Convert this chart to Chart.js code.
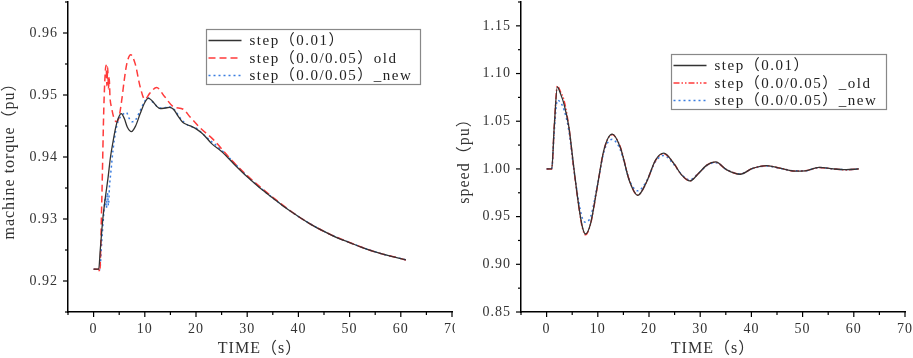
<!DOCTYPE html>
<html>
<head>
<meta charset="utf-8">
<script src="https://cdn.jsdelivr.net/npm/chart.js@4.4.1/dist/chart.umd.min.js"></script>
<style>
  body { margin: 0; background: #fff; width: 913px; height: 358px; overflow: hidden; position: relative; }
  #pL { position: absolute; left: 0; top: 0; }
  #boxR { position: absolute; left: 455px; top: 0; width: 458px; height: 358px; background: #fff; }
</style>
</head>
<body>
<canvas id="pL" width="460" height="358"></canvas>
<div id="boxR"><canvas id="pR" width="458" height="358"></canvas></div>
<script>
// ---- left panel: machine torque ----
const tRef = [0, 1, 1.3, 1.8, 2.3, 2.8, 3.3, 3.8, 4.3, 4.8, 5.4, 6, 6.6, 7.4, 8.2, 9.1, 10, 10.7, 11.5, 12.3, 13, 14, 14.8, 15.6, 16.5, 17.4, 18.3, 19.2, 20.1, 21.5, 23, 25, 27.5, 30, 32.5, 35, 37.5, 40, 42.5, 45, 47.5, 50, 52.5, 55, 58, 61];
const torqueRef = [0.9219, 0.9219, 0.9250, 0.9300, 0.9335, 0.9365, 0.9400, 0.9425, 0.9447, 0.9462, 0.9470, 0.9462, 0.9448, 0.9441, 0.9450, 0.9470, 0.9488, 0.9495, 0.9490, 0.9482, 0.9478, 0.9479, 0.9480, 0.9477, 0.9466, 0.9456, 0.9452, 0.9449, 0.9445, 0.9436, 0.9422, 0.9409, 0.9388, 0.9368, 0.9350, 0.9334, 0.9318, 0.9304, 0.9291, 0.9280, 0.9270, 0.9262, 0.9254, 0.9247, 0.9240, 0.9234];

const tOld = [0, 1, 1.2, 1.6, 2.0, 2.3, 2.45, 2.6, 2.75, 2.9, 3.05, 3.2, 3.5, 3.9, 4.4, 4.9, 5.5, 6, 6.5, 7.25, 8.1, 9.1, 10, 11, 12.3, 13.9, 15.6, 17.5, 18.8, 20.8, 23.4, 26.6, 30, 35, 40, 45, 50, 55, 61];
const torqueOld = [0.9219, 0.9219, 0.9215, 0.9330, 0.9480, 0.9540, 0.9548, 0.9515, 0.9545, 0.9510, 0.9528, 0.9497, 0.9480, 0.9465, 0.9457, 0.9462, 0.9492, 0.9525, 0.9551, 0.9565, 0.9551, 0.9513, 0.9493, 0.9503, 0.9512, 0.9497, 0.9481, 0.9477, 0.9465, 0.9447, 0.9428, 0.9398, 0.9370, 0.9335, 0.9304, 0.9280, 0.9262, 0.9247, 0.9234];

const tNew = [0, 1, 1.2, 1.6, 2.0, 2.3, 2.5, 2.7, 2.9, 3.1, 3.4, 3.8, 4.3, 4.8, 5.4, 5.9, 6.4, 6.9, 7.5, 8.2, 9.1, 10, 10.6, 11.5, 12.5, 13.5, 14.8, 15.8, 17, 18.3, 20.1, 22, 25, 27.5, 30, 35, 40, 45, 50, 55, 61];
const torqueNew = [0.9219, 0.9219, 0.9218, 0.9265, 0.9310, 0.9335, 0.9318, 0.9342, 0.9322, 0.9352, 0.9378, 0.9412, 0.9441, 0.9458, 0.9466, 0.9470, 0.9472, 0.9463, 0.9457, 0.9460, 0.9475, 0.9490, 0.9495, 0.9489, 0.9481, 0.9479, 0.9481, 0.9476, 0.9462, 0.9452, 0.9446, 0.9432, 0.9411, 0.9390, 0.9369, 0.9334, 0.9304, 0.9280, 0.9262, 0.9247, 0.9234];

// ---- right panel: speed ----
const tSpeed = [0, 1, 1.5, 2.1, 2.7, 3.4, 4.35, 5.3, 6.3, 7.0, 7.6, 8.6, 9.9, 11.2, 12.8, 14.4, 16.2, 17.8, 19.5, 21.3, 22.9, 24.8, 26.4, 28, 29.7, 31.3, 33, 35.2, 37.8, 40.2, 43, 45.6, 48.5, 50.5, 53.2, 56, 58.5, 61];
const speedRef = [1.000, 1.000, 1.045, 1.0860, 1.0790, 1.0680, 1.0440, 1.0020, 0.9605, 0.9390, 0.9318, 0.9430, 0.9815, 1.0200, 1.0365, 1.0225, 0.9870, 0.9722, 0.9860, 1.0095, 1.0165, 1.0060, 0.9935, 0.9874, 0.9955, 1.0040, 1.0073, 0.9990, 0.9944, 1.0005, 1.0035, 1.0008, 0.9977, 0.9980, 1.0017, 1.0000, 0.9992, 1.0000];
const speedOld = [1.000, 1.000, 1.045, 1.0870, 1.0810, 1.0720, 1.0440, 1.0010, 0.9600, 0.9380, 0.9310, 0.9425, 0.9810, 1.0200, 1.0360, 1.0230, 0.9875, 0.9725, 0.9860, 1.0090, 1.0160, 1.0060, 0.9935, 0.9876, 0.9955, 1.0040, 1.0070, 0.9990, 0.9945, 1.0005, 1.0033, 1.0008, 0.9978, 0.9980, 1.0015, 1.0000, 0.9990, 1.0000];
const speedNew = [1.000, 1.000, 1.040, 1.0720, 1.0700, 1.0620, 1.0400, 1.0000, 0.9650, 0.9480, 0.9440, 0.9500, 0.9820, 1.0180, 1.0310, 1.0200, 0.9880, 0.9770, 0.9870, 1.0080, 1.0140, 1.0050, 0.9940, 0.9885, 0.9958, 1.0035, 1.0065, 0.9992, 0.9948, 1.0004, 1.0031, 1.0007, 0.9980, 0.9981, 1.0014, 1.0000, 0.9992, 1.0000];

const SERIF = '"Liberation Serif", "Noto Sans CJK SC", serif';
const pts = (xs, ys) => xs.map((x, i) => ({ x: x, y: ys[i] }));

// loose spacing like the original CJK font, for ticks and titles
const looseText = {
  id: 'looseText',
  beforeDraw(chart) { if ('letterSpacing' in chart.ctx) chart.ctx.letterSpacing = '1px'; },
  afterDraw(chart) { if ('letterSpacing' in chart.ctx) chart.ctx.letterSpacing = '0px'; }
};

// outward tick marks, long for labelled ticks, short for the others
const tickMarks = {
  id: 'tickMarks',
  afterDraw(chart) {
    const ctx = chart.ctx;
    ctx.save();
    ctx.strokeStyle = '#000';
    ctx.lineWidth = 1.2;
    const xs = chart.scales.x, ys = chart.scales.y;
    xs.ticks.forEach(t => {
      const p = xs.getPixelForValue(t.value);
      const len = t.label !== '' ? 5 : 3;
      ctx.beginPath(); ctx.moveTo(p, xs.top); ctx.lineTo(p, xs.top + len); ctx.stroke();
    });
    ys.ticks.forEach(t => {
      const p = ys.getPixelForValue(t.value);
      const len = t.label !== '' ? 5 : 3;
      ctx.beginPath(); ctx.moveTo(ys.right, p); ctx.lineTo(ys.right - len, p); ctx.stroke();
    });
    ctx.restore();
  }
};

// framed legend inside the plot
const boxLegend = {
  id: 'boxLegend',
  afterDraw(chart, args, opts) {
    const { ctx, chartArea } = chart;
    const x0 = Math.round(chartArea.left + opts.dx) + 0.5;
    const y0 = Math.round(chartArea.top + opts.dy) + 0.5;
    ctx.save();
    ctx.fillStyle = '#fff';
    ctx.fillRect(x0, y0, opts.w, opts.h);
    ctx.strokeStyle = '#888';
    ctx.lineWidth = 1.2;
    ctx.strokeRect(x0, y0, opts.w, opts.h);
    ctx.font = '15px ' + SERIF;
    ctx.textBaseline = 'middle';
    if ('letterSpacing' in ctx) ctx.letterSpacing = '1.5px';
    chart.data.datasets.forEach((ds, i) => {
      const y = y0 + 11 + i * 17.5;
      ctx.strokeStyle = ds.borderColor;
      ctx.lineWidth = ds.borderWidth;
      ctx.setLineDash(ds.borderDash || []);
      ctx.beginPath(); ctx.moveTo(x0 + 2, y); ctx.lineTo(x0 + 35, y); ctx.stroke();
      ctx.setLineDash([]);
      ctx.fillStyle = '#222';
      ctx.fillText(ds.label, x0 + 43, y + 1);
    });
    ctx.restore();
  }
};

function makeChart(id, cfg) {
  return new Chart(document.getElementById(id), {
    type: 'line',
    data: { datasets: cfg.datasets },
    options: {
      responsive: false,
      animation: false,
      parsing: false,
      layout: { padding: { top: 2, right: cfg.padRight, left: 0, bottom: 0 } },
      elements: {
        point: { radius: 0 },
        line: { cubicInterpolationMode: 'monotone', fill: false }
      },
      plugins: {
        legend: { display: false },
        tooltip: { enabled: false },
        boxLegend: cfg.legend
      },
      scales: {
        x: {
          type: 'linear', min: -5, max: 70,
          afterFit: s => { s.height = 46; s.paddingLeft = 0; s.paddingRight = 0; },
          grid: { display: false, drawTicks: false },
          border: { display: true, color: '#000', width: 1.5 },
          ticks: {
            stepSize: 5, autoSkip: false, maxRotation: 0, padding: 9,
            color: '#333', font: { family: SERIF, size: 14 },
            callback: v => (Math.round(v) % 10 === 0 ? String(Math.round(v)) : '')
          },
          title: {
            display: true, text: 'TIME（s）', color: '#333',
            font: { family: SERIF, size: 16 }, padding: { top: 0, bottom: 0 }
          }
        },
        y: {
          type: 'linear', min: cfg.yMin, max: cfg.yMax,
          afterFit: s => { s.width = cfg.yWidth; s.paddingTop = 0; s.paddingBottom = 0; },
          grid: { display: false, drawTicks: false },
          border: { display: true, color: '#000', width: 1.5 },
          ticks: {
            stepSize: cfg.yStep, autoSkip: false, padding: 10,
            color: '#333', font: { family: SERIF, size: 14 },
            callback: v => (Math.round(v * 1000) % cfg.yLabelEvery === 0 ? v.toFixed(2) : '')
          },
          title: {
            display: true, text: cfg.yTitle, color: '#333',
            font: { family: SERIF, size: 16 }, padding: { top: cfg.yTitlePad, bottom: 0 }
          }
        }
      }
    },
    plugins: [looseText, tickMarks, boxLegend]
  });
}

makeChart('pL', {
  yMin: 0.915, yMax: 0.965, yStep: 0.005, yLabelEvery: 10, yWidth: 68, padRight: 8,
  yTitle: 'machine torque（pu）', yTitlePad: 0,
  legend: { dx: 138, dy: 27, w: 214, h: 55 },
  datasets: [
    { label: 'step（0.01）', data: pts(tRef, torqueRef), borderColor: '#333333', borderWidth: 1.3 },
    { label: 'step（0.0/0.05）old', data: pts(tOld, torqueOld), borderColor: '#ff3b3b', borderWidth: 1.5, borderDash: [7, 4] },
    { label: 'step（0.0/0.05）_new', data: pts(tNew, torqueNew), borderColor: '#3a7de0', borderWidth: 1.5, borderDash: [2, 3] }
  ]
});

makeChart('pR', {
  yMin: 0.85, yMax: 1.175, yStep: 0.025, yLabelEvery: 50, yWidth: 66, padRight: 8,
  yTitle: 'speed（pu）', yTitlePad: 0,
  legend: { dx: 150, dy: 52, w: 215, h: 55 },
  datasets: [
    { label: 'step（0.01）', data: pts(tSpeed, speedRef), borderColor: '#333333', borderWidth: 1.3 },
    { label: 'step（0.0/0.05）_old', data: pts(tSpeed, speedOld), borderColor: '#ff3b3b', borderWidth: 1.5, borderDash: [6, 2, 1.5, 2, 1.5, 2] },
    { label: 'step（0.0/0.05）_new', data: pts(tSpeed, speedNew), borderColor: '#3a7de0', borderWidth: 1.5, borderDash: [2, 3] }
  ]
});
</script>
</body>
</html>
